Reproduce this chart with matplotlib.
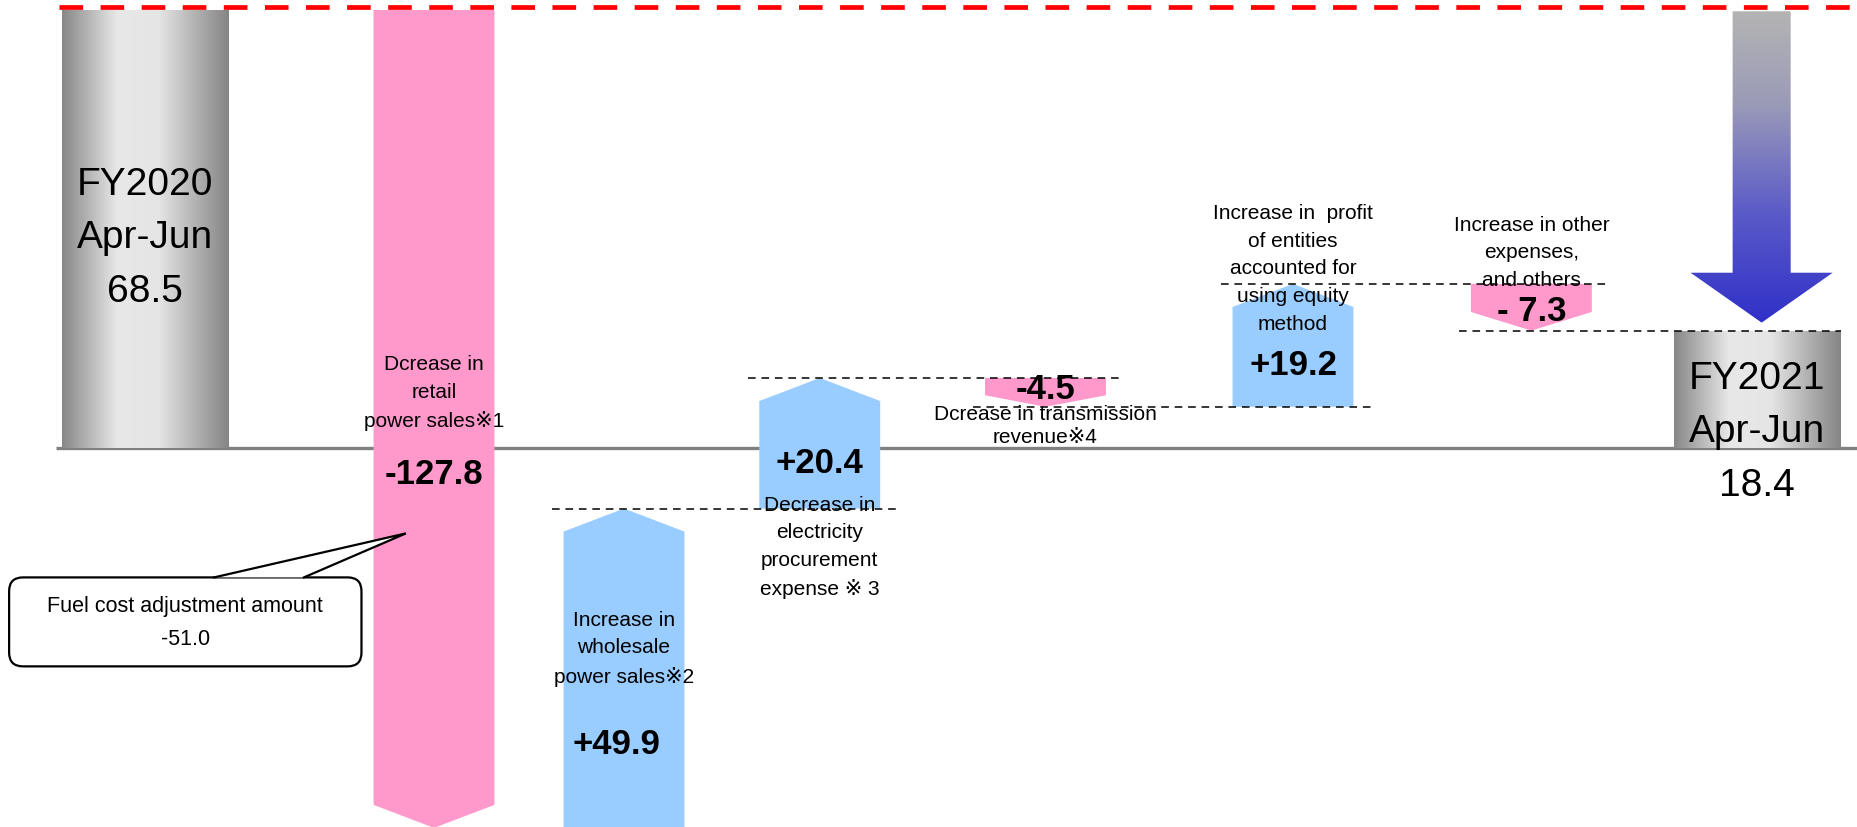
import numpy as np
import matplotlib.pyplot as plt
from matplotlib.patches import Polygon, FancyBboxPatch
from matplotlib.colors import LinearSegmentedColormap

plt.rcParams['font.family'] = ['Liberation Sans', 'DejaVu Sans', 'Noto Sans CJK JP']

# ordinary profit bridge, FY2020 Apr-Jun -> FY2021 Apr-Jun (billion yen)
start_value = 68.5
end_value = 18.4
start_label = "FY2020\nApr-Jun"
end_label = "FY2021\nApr-Jun"
change_values = [-127.8, 49.9, 20.4, -4.5, 19.2, -7.3]
change_labels = [
    "Dcrease in\nretail\npower sales※1",
    "Increase in\nwholesale\npower sales※2",
    "Decrease in\nelectricity\nprocurement\nexpense ※ 3",
    "Dcrease in transmission\nrevenue※4",
    "Increase in  profit\nof entities\naccounted for\nusing equity\nmethod",
    "Increase in other\nexpenses,\nand others",
]
fuel_label = "Fuel cost adjustment amount"
fuel_value = -51.0

# slot centres along x (first/last are the totals)
xpos = [0, 1.255, 2.08, 2.93, 3.91, 4.985, 6.02, 7.0]
total_w = 0.725
step_w = 0.525

PINK = '#FF99CC'
BLUE = '#99CCFF'

levels = start_value + np.cumsum(change_values)
prev_levels = np.concatenate([[start_value], levels[:-1]])

fig = plt.figure(figsize=(18.57, 8.28), dpi=100)
ax = fig.add_axes([0, 0, 1, 1])
ax.axis('off')
XLIM = (-0.6296, 7.434)
YLIM = (-59.16, 70.22)

# zero line
ax.plot([-0.386, XLIM[1]], [0, 0], color='#808080', lw=2.4, zorder=1,
        solid_capstyle='butt')

# red dashed frame line along the top
ax.plot([-0.373, XLIM[1]], [start_value + 0.47] * 2, color='#FF0000', lw=3.4,
        dashes=[5.0, 3.7], zorder=3)

# cylinder-shaded total bars
gray_cmap = LinearSegmentedColormap.from_list(
    'cyl', [(0, '#878787'), (0.33, '#e8e8e8'), (0.58, '#e5e5e5'), (1, '#858585')])
grad = np.linspace(0, 1, 256).reshape(1, -1)
for x, v in [(xpos[0], start_value), (xpos[-1], end_value)]:
    bar = ax.bar(x, v, width=total_w, color='none', zorder=2)[0]
    im = ax.imshow(grad, cmap=gray_cmap, aspect='auto', zorder=2,
                   extent=[x - total_w / 2, x + total_w / 2, 0, v])
    im.set_clip_path(bar)


def arrow_poly(x, y_from, y_to, w, head):
    """Block arrow from y_from pointing to y_to."""
    sgn = 1 if y_to > y_from else -1
    yb = y_to - sgn * head
    l, r = x - w / 2, x + w / 2
    return [(l, y_from), (l, yb), (x, y_to), (r, yb), (r, y_from)]


for i, d in enumerate(change_values):
    x = xpos[i + 1]
    head = min(3.6, 0.4 * abs(d))
    color = BLUE if d > 0 else PINK
    ax.add_patch(Polygon(arrow_poly(x, prev_levels[i], levels[i], step_w, head),
                         closed=True, facecolor=color, edgecolor='none', zorder=2))

# dashed connectors between consecutive steps
for i in range(1, len(change_values)):
    x_l = xpos[i + 1] - step_w / 2 - 0.05
    if i + 2 < len(xpos) - 1:
        x_r = xpos[i + 2] + step_w / 2 + 0.08
    else:
        x_r = xpos[-1] + total_w / 2
    ax.plot([x_l, x_r], [levels[i]] * 2, color='black', lw=1.1,
            dashes=[5, 3.8], zorder=4)

# big decrease arrow above the FY2021 bar
xa = xpos[-1] + 0.02
shaft_w, head_w = 0.252, 0.617
tip = end_value + 1.25
head_start = tip + 7.8
top = start_value - 0.2
big = [(xa - shaft_w / 2, top), (xa - shaft_w / 2, head_start), (xa - head_w / 2, head_start),
       (xa, tip), (xa + head_w / 2, head_start), (xa + shaft_w / 2, head_start),
       (xa + shaft_w / 2, top)]
big_patch = Polygon(big, closed=True, facecolor='none', edgecolor='none', zorder=3)
ax.add_patch(big_patch)
blue_cmap = LinearSegmentedColormap.from_list(
    'drop', [(0, '#3030c8'), (0.35, '#5a5ac8'), (0.7, '#9a9ab8'), (1, '#b4b4b4')])
vgrad = np.linspace(0, 1, 256).reshape(-1, 1)
im = ax.imshow(vgrad, cmap=blue_cmap, aspect='auto', origin='lower', zorder=3,
               extent=[xa - head_w / 2, xa + head_w / 2, tip, top])
im.set_clip_path(big_patch)

# text
big_font = 28
desc_font = 15
val_font = 25


def put(x, y, text, dy=0, dx=0, size=desc_font, bold=False, ls=1.58):
    ax.annotate(text, (x, y), xytext=(dx, dy), textcoords='offset pixels',
                ha='center', va='center', fontsize=size, linespacing=ls,
                fontweight='bold' if bold else 'normal', zorder=6)


put(xpos[0], start_value / 2, f"{start_label}\n{start_value:.1f}", dy=-8, size=big_font, ls=1.62)
put(xpos[-1], 0, f"{end_label}\n{end_value:.1f}", dy=17, size=big_font, ls=1.62)

vals = [f"{d:+.1f}" for d in change_values]
vals[-1] = vals[-1].replace('-', '- ')

# retail power sales
put(xpos[1], 0, change_labels[0], dy=56)
put(xpos[1], 0, vals[0], dy=-25, size=val_font, bold=True)
# wholesale
put(xpos[2], levels[1], change_labels[1], dy=-139)
put(xpos[2], levels[1], vals[1], dy=-235, dx=-8, size=val_font, bold=True)
# procurement
put(xpos[3], 0, vals[2], dy=-14, size=val_font, bold=True)
put(xpos[3], 0, change_labels[2], dy=-98)
# transmission
put(xpos[4], levels[2], vals[3], dy=-11, size=val_font, bold=True)
put(xpos[4], levels[3], change_labels[3], dy=-18, ls=1.3)
# equity method
put(xpos[5], levels[4], change_labels[4], dy=16)
put(xpos[5], levels[3], vals[4], dy=42, size=val_font, bold=True)
# other expenses
put(xpos[6], levels[4], change_labels[5], dy=32)
put(xpos[6], levels[5], vals[5], dy=20, size=val_font, bold=True)

# callout for the fuel cost adjustment part of retail sales
ax.set_xlim(*XLIM)
ax.set_ylim(*YLIM)
aspect = (1857 / (XLIM[1] - XLIM[0])) / (828 / (YLIM[1] - YLIM[0]))
bx0, bx1 = -0.59, 0.94
by0, by1 = -34.06, -20.16
box = FancyBboxPatch((bx0, by0), bx1 - bx0, by1 - by0,
                     boxstyle='round,pad=0,rounding_size=0.06',
                     mutation_aspect=aspect, facecolor='white',
                     edgecolor='black', lw=1.6, zorder=4)
ax.add_patch(box)
tail = [(0.30, by1), (1.133, -13.28), (0.69, by1)]
ax.add_patch(Polygon(tail, closed=True, facecolor='white', edgecolor='none', zorder=5))
ax.plot(*zip(*tail), color='black', lw=1.6, zorder=5, solid_joinstyle='miter')
ax.text((bx0 + bx1) / 2, (by0 + by1) / 2, f"{fuel_label}\n{fuel_value:.1f}",
        ha='center', va='center', fontsize=15.5, linespacing=1.72, zorder=6)

ax.set_xlim(*XLIM)
ax.set_ylim(*YLIM)
fig.savefig('out.png', dpi=100)
